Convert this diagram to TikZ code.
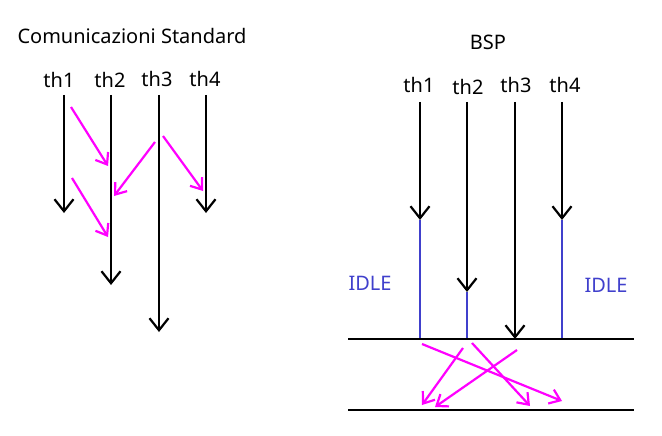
\documentclass[tikz,border=0pt]{standalone}
\usepackage{fontspec}
\setmainfont{Noto Sans}
\usetikzlibrary{arrows.meta}
\definecolor{idleblue}{RGB}{64,64,204}
\definecolor{msgpink}{RGB}{255,0,255}

\begin{document}
\begin{tikzpicture}[x=1pt, y=-1pt,
  lbl/.style = {font=\fontsize{20}{22}\selectfont},
  thread/.style = {line width=2.2pt, -{Straight Barb[length=12pt,width=19pt]}},
  msg/.style = {msgpink, line width=2.2pt, -{Straight Barb[length=10pt,width=15pt]}},
  idle/.style = {idleblue, line width=2.5pt},
  bar/.style = {line width=2.2pt}]
	\useasboundingbox (0,0) rectangle (662,436);
	% Comunicazioni Standard
	\node[lbl] (stdtitle) at (132,36) {Comunicazioni Standard};
	\node[lbl] (sA) at (59,80) {th1};
	\node[lbl] (sB) at (110,80) {th2};
	\node[lbl] (sC) at (157,79) {th3};
	\node[lbl] (sD) at (205,79) {th4};
	\coordinate (sA0) at (64,95);  \coordinate (sA1) at (64,213);
	\coordinate (sB0) at (111,95); \coordinate (sB1) at (111,285);
	\coordinate (sC0) at (159,95); \coordinate (sC1) at (159,332);
	\coordinate (sD0) at (206,95); \coordinate (sD1) at (206,213);
	\draw[thread] (sA0) -- (sA1);
	\draw[thread] (sB0) -- (sB1);
	\draw[thread] (sC0) -- (sC1);
	\draw[thread] (sD0) -- (sD1);
	\coordinate (m1a) at (71,107);  \coordinate (m1b) at (108,166);
	\coordinate (m2a) at (155,142); \coordinate (m2b) at (114,196);
	\coordinate (m3a) at (163,136); \coordinate (m3b) at (203,191);
	\coordinate (m4a) at (72,178);  \coordinate (m4b) at (108,237);
	\draw[msg] (m1a) -- (m1b);
	\draw[msg] (m2a) -- (m2b);
	\draw[msg] (m3a) -- (m3b);
	\draw[msg] (m4a) -- (m4b);
	% BSP
	\node[lbl] (bsptitle) at (488,42) {BSP};
	\node[lbl] (bA) at (419,85) {th1};
	\node[lbl] (bB) at (468,87) {th2};
	\node[lbl] (bC) at (516,85) {th3};
	\node[lbl] (bD) at (565,85) {th4};
	\node[lbl, text=idleblue] (idleL) at (370,283) {IDLE};
	\node[lbl, text=idleblue] (idleR) at (606,285) {IDLE};
	\coordinate (barL0) at (348,339); \coordinate (barR0) at (634,339);
	\coordinate (barL1) at (348,410); \coordinate (barR1) at (634,410);
	\coordinate (bA0) at (420,102); \coordinate (bA1) at (420,220); \coordinate (bA2) at (420,339);
	\coordinate (bB0) at (467,102); \coordinate (bB1) at (467,292); \coordinate (bB2) at (467,339);
	\coordinate (bC0) at (515,102); \coordinate (bC2) at (515,339);
	\coordinate (bD0) at (562,102); \coordinate (bD1) at (562,220); \coordinate (bD2) at (562,339);
	\draw[idle] (bA1) -- (bA2);
	\draw[idle] (bB1) -- (bB2);
	\draw[idle] (bD1) -- (bD2);
	\draw[thread] (bA0) -- (bA1);
	\draw[thread] (bB0) -- (bB1);
	\draw[thread] (bC0) -- (bC2);
	\draw[thread] (bD0) -- (bD1);
	\draw[bar] (barL0) -- (barR0);
	\draw[bar] (barL1) -- (barR1);
	\coordinate (x1a) at (422,344); \coordinate (x1b) at (562,401);
	\coordinate (x2a) at (463,348); \coordinate (x2b) at (422,405);
	\coordinate (x3a) at (472,343); \coordinate (x3b) at (530,406);
	\coordinate (x4a) at (517,350); \coordinate (x4b) at (435,407);
	\draw[msg] (x1a) -- (x1b);
	\draw[msg] (x2a) -- (x2b);
	\draw[msg] (x3a) -- (x3b);
	\draw[msg] (x4a) -- (x4b);
\end{tikzpicture}
\end{document}
